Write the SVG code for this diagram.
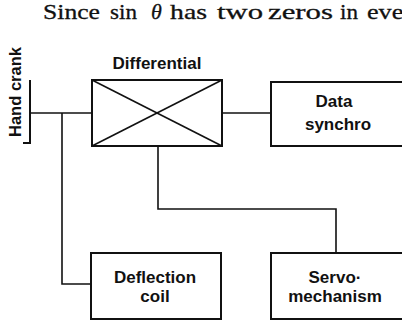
<svg xmlns="http://www.w3.org/2000/svg" width="402" height="322" viewBox="0 0 402 322">
<style>
.box{fill:none;stroke:#111;stroke-width:2}
.ln{fill:none;stroke:#111;stroke-width:1.6}
.lbl{font-family:"Liberation Sans",Arial,sans-serif;font-weight:bold;font-size:17px;fill:#111;text-anchor:middle}
.top{font-family:"Liberation Serif","Times New Roman",serif;font-size:22px;fill:#111;stroke:#111;stroke-width:0.3}
</style>
<rect width="402" height="322" fill="#fff"/>
<g id="caption">
<text class="top" x="43" y="19" textLength="57" lengthAdjust="spacingAndGlyphs">Since</text>
<text class="top" x="110" y="19" textLength="27" lengthAdjust="spacingAndGlyphs">sin</text>
<text class="top" x="151" y="19" font-style="italic">θ</text>
<text class="top" x="170" y="19" textLength="37" lengthAdjust="spacingAndGlyphs">has</text>
<text class="top" x="217" y="19" textLength="46" lengthAdjust="spacingAndGlyphs">two</text>
<text class="top" x="268" y="19" textLength="65" lengthAdjust="spacingAndGlyphs">zeros</text>
<text class="top" x="340" y="19" textLength="18" lengthAdjust="spacingAndGlyphs">in</text>
<text class="top" x="367" y="19" textLength="45" lengthAdjust="spacingAndGlyphs">ever</text>
</g>
<g id="hand-crank">
<text class="lbl" style="text-anchor:start" transform="translate(20.5,137) rotate(-90)" textLength="90" lengthAdjust="spacingAndGlyphs">Hand crank</text>
<polyline class="box" points="30,80 30,143 23,143"/>
</g>
<g id="differential">
<text class="lbl" x="157" y="69">Differential</text>
<rect class="box" x="92" y="80" width="130" height="66"/>
<line class="ln" x1="92" y1="80" x2="222" y2="146"/>
<line class="ln" x1="222" y1="80" x2="92" y2="146"/>
</g>
<g id="data-synchro">
<rect class="box" x="271" y="82" width="150" height="64"/>
<text class="lbl" x="334" y="107">Data</text>
<text class="lbl" x="338" y="130">synchro</text>
</g>
<g id="deflection-coil">
<rect class="box" x="91" y="253" width="130" height="66"/>
<text class="lbl" x="155" y="283">Deflection</text>
<text class="lbl" x="155" y="302">coil</text>
</g>
<g id="servomechanism">
<rect class="box" x="271" y="253" width="150" height="66"/>
<text class="lbl" x="335" y="283">Servo·</text>
<text class="lbl" x="335" y="302">mechanism</text>
</g>
<g id="connectors">
<line class="ln" x1="30" y1="113" x2="92" y2="113"/>
<polyline class="ln" points="62,113 62,284 91,284"/>
<line class="ln" x1="222" y1="113" x2="271" y2="113"/>
<polyline class="ln" points="158,146 158,209 336,209 336,253"/>
</g>
</svg>
